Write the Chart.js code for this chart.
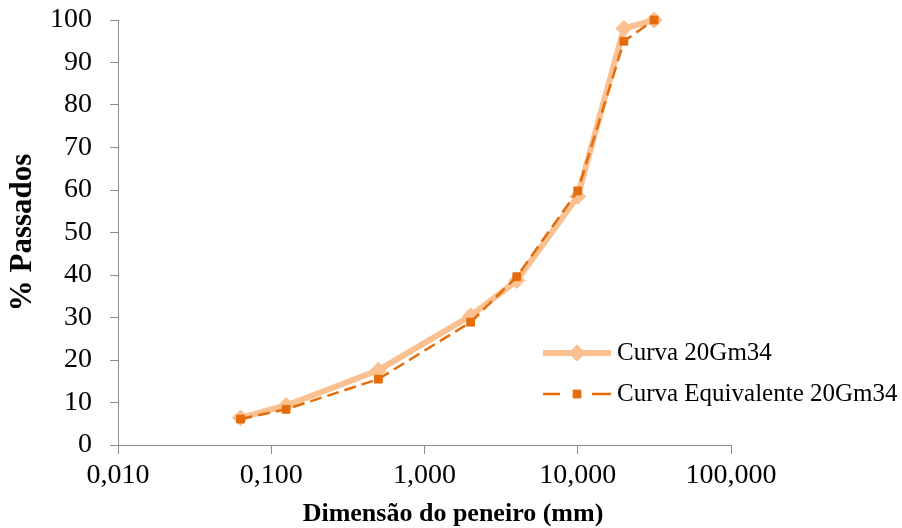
<!DOCTYPE html>
<html>
<head>
<meta charset="utf-8">
<script src="https://cdn.jsdelivr.net/npm/chart.js@4.4.1/dist/chart.umd.min.js"></script>
<style>
  html, body { margin: 0; padding: 0; background: #ffffff; }
  canvas { display: block; }
</style>
</head>
<body>
<canvas id="chart" width="902" height="528"></canvas>
<script>
// Sieve openings (mm) and percentage passing for each grading curve
const sieveSizes = [0.063, 0.125, 0.5, 2, 4, 10, 20, 31.5];
const curva20Gm34 = [6.4, 9.3, 17.6, 30.4, 38.7, 58.5, 98, 100];
const curvaEquivalente20Gm34 = [6.1, 8.4, 15.5, 28.9, 39.6, 59.8, 95, 100];
const seriesNames = ['Curva 20Gm34', 'Curva Equivalente 20Gm34'];
const xTickValues = [0.01, 0.1, 1, 10, 100];
const yTickValues = [0, 10, 20, 30, 40, 50, 60, 70, 80, 90, 100];
const xTitle = 'Dimensão do peneiro (mm)';
const yTitle = '% Passados';

const SERIF = '"Liberation Serif", "Times New Roman", serif';
const AXIS_GREY = '#8c8c8c';

const toPoints = values => sieveSizes.map((s, i) => ({ x: s, y: values[i] }));

// Legend drawn inside the plot area, to the right of the curves
const insideLegend = {
  id: 'insideLegend',
  afterDatasetsDraw(chart) {
    const ctx = chart.ctx;
    const rows = [353, 394];
    const x0 = 543, x1 = 611, xm = (x0 + x1) / 2;
    chart.data.datasets.forEach((ds, i) => {
      const y = rows[i];
      ctx.save();
      ctx.strokeStyle = ds.borderColor;
      ctx.lineWidth = ds.borderWidth;
      ctx.lineCap = 'butt';
      ctx.beginPath();
      if (ds.borderDash) {
        ctx.moveTo(x0, y); ctx.lineTo(x0 + 17, y);
        ctx.moveTo(xm + 15, y); ctx.lineTo(x1, y);
      } else {
        ctx.moveTo(x0, y); ctx.lineTo(x1, y);
      }
      ctx.stroke();
      ctx.fillStyle = ds.pointBackgroundColor;
      ctx.strokeStyle = ds.pointBorderColor;
      ctx.lineWidth = ds.pointBorderWidth;
      Chart.helpers.drawPoint(ctx, {
        pointStyle: ds.pointStyle,
        radius: ds.pointRadius,
        borderWidth: ds.pointBorderWidth,
        rotation: 0
      }, xm, y);
      ctx.fillStyle = '#000000';
      ctx.font = '25px ' + SERIF;
      ctx.textBaseline = 'middle';
      ctx.textAlign = 'left';
      ctx.fillText(ds.label, 617, y);
      ctx.restore();
    });
  }
};

// x-axis caption, centred under the whole figure rather than the plot area
const xCaption = {
  id: 'xCaption',
  afterDraw(chart) {
    const ctx = chart.ctx;
    ctx.save();
    ctx.fillStyle = '#000000';
    ctx.font = 'bold 26px ' + SERIF;
    ctx.textAlign = 'center';
    ctx.textBaseline = 'middle';
    ctx.fillText(xTitle, 453, 514);
    ctx.restore();
  }
};

new Chart(document.getElementById('chart'), {
  type: 'line',
  data: {
    datasets: [
      {
        label: seriesNames[0],
        data: toPoints(curva20Gm34),
        borderColor: '#fac090',
        backgroundColor: '#fac090',
        borderWidth: 6,
        tension: 0,
        clip: false,
        pointStyle: 'rectRot',
        pointRadius: 8,
        pointBackgroundColor: '#fac090',
        pointBorderColor: '#fac090',
        pointBorderWidth: 1,
        order: 2
      },
      {
        label: seriesNames[1],
        data: toPoints(curvaEquivalente20Gm34),
        borderColor: '#e46c0a',
        backgroundColor: '#e46c0a',
        borderWidth: 2.5,
        borderDash: [12, 6],
        tension: 0,
        clip: false,
        pointStyle: 'rect',
        pointRadius: 5.5,
        pointBackgroundColor: '#e46c0a',
        pointBorderColor: '#e46c0a',
        pointBorderWidth: 1,
        order: 1
      }
    ]
  },
  options: {
    responsive: false,
    animation: false,
    devicePixelRatio: 1,
    layout: { padding: { left: 0, right: 171, top: 20, bottom: 0 } },
    plugins: {
      legend: { display: false },
      tooltip: { enabled: false }
    },
    scales: {
      x: {
        type: 'logarithmic',
        min: 0.01,
        max: 100,
        afterBuildTicks: scale => { scale.ticks = xTickValues.map(v => ({ value: v })); },
        afterFit: scale => { scale.height = 83; },
        ticks: {
          autoSkip: false,
          maxRotation: 0,
          color: '#000000',
          padding: 5,
          font: { family: SERIF, size: 28 },
          callback: v => Number(v).toFixed(3).replace('.', ',')
        },
        grid: {
          drawOnChartArea: false,
          drawTicks: true,
          tickLength: 9,
          color: AXIS_GREY,
          lineWidth: 1
        },
        border: { color: AXIS_GREY, width: 1 }
      },
      y: {
        min: 0,
        max: 100,
        afterBuildTicks: scale => { scale.ticks = yTickValues.map(v => ({ value: v })); },
        afterFit: scale => {
          scale.width = 118;
          scale.paddingTop = 0;
          scale.paddingBottom = 0;
        },
        ticks: {
          color: '#000000',
          padding: 18,
          font: { family: SERIF, size: 28 }
        },
        grid: {
          drawOnChartArea: false,
          drawTicks: true,
          tickLength: 8,
          color: AXIS_GREY,
          lineWidth: 1
        },
        border: { color: AXIS_GREY, width: 1 },
        title: {
          display: true,
          text: yTitle,
          color: '#000000',
          font: { family: SERIF, size: 31, weight: 'bold', lineHeight: 1.0 },
          padding: { top: 7, bottom: 0 }
        }
      }
    }
  },
  plugins: [insideLegend, xCaption]
});
</script>
</body>
</html>
